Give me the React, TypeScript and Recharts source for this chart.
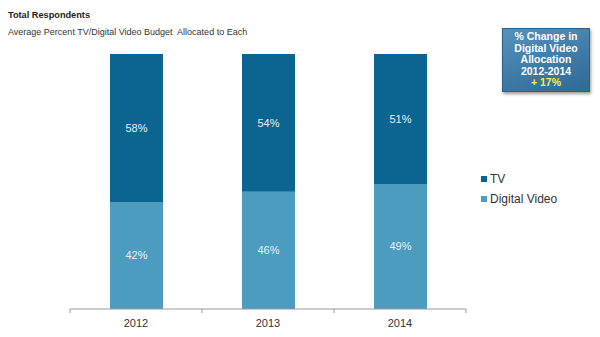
import React from 'react';
import { BarChart, Bar, XAxis, YAxis, LabelList } from 'recharts';

const years = ['2012', '2013', '2014'];
const digitalVideo = [42, 46, 49];
const tv = [58, 54, 51];

const data = years.map((year, i) => ({ year, digitalVideo: digitalVideo[i], tv: tv[i] }));

const TV_COLOR = '#0c6591';
const DV_COLOR = '#4c9cc0';
const PLOT_LEFT = 70;
const PLOT_RIGHT = 134;
const BAND = (600 - PLOT_LEFT - PLOT_RIGHT) / years.length;

const legendItems = [
  { name: 'TV', color: TV_COLOR },
  { name: 'Digital Video', color: DV_COLOR },
];

const YearTick = (props: any) => {
  const { x, y, payload, index } = props;
  const last = index === years.length - 1;
  return (
    <g>
      <line x1={x - BAND / 2} y1={y - 8} x2={x - BAND / 2} y2={y - 4} stroke="#999" />
      {last && <line x1={x + BAND / 2} y1={y - 8} x2={x + BAND / 2} y2={y - 4} stroke="#999" />}
      <text x={x} y={y + 10} textAnchor="middle" fontSize={11} fill="#333">
        {payload.value}
      </text>
    </g>
  );
};

const App: React.FC = () => (
  <div style={{ position: 'absolute', left: 0, top: 0, width: 600, height: 337, background: '#fff', fontFamily: '"Liberation Sans", Arial, sans-serif' }}>
    <div style={{ position: 'absolute', left: 8, top: 10, fontSize: 9.2, fontWeight: 'bold', color: '#222' }}>Total Respondents</div>
    <div style={{ position: 'absolute', left: 8, top: 27, fontSize: 9, color: '#333' }}>
      Average Percent TV/Digital Video Budget&nbsp; Allocated to Each
    </div>
    <div
      style={{
        position: 'absolute',
        left: 502,
        top: 28,
        width: 88,
        height: 64,
        background: 'linear-gradient(160deg, #5592bb 0%, #3c79a5 60%, #306a94 100%)',
        border: '1px solid #2d6088',
        boxShadow: '1px 2px 3px rgba(0,0,0,0.4)',
        color: '#fff',
        fontWeight: 'bold',
        fontSize: 10.5,
        lineHeight: '11.5px',
        textAlign: 'center',
        paddingTop: 2,
        boxSizing: 'border-box',
      }}
    >
      <div>% Change in</div>
      <div>Digital Video</div>
      <div>Allocation</div>
      <div>2012-2014</div>
      <div style={{ color: '#f2f53a' }}>+ 17%</div>
    </div>
    <div style={{ position: 'absolute', left: 481, top: 169 }}>
      {legendItems.map((it) => (
        <div key={it.name} style={{ display: 'flex', alignItems: 'center', height: 20, fontSize: 12, color: '#333' }}>
          <span style={{ width: 6, height: 6, background: it.color, marginRight: 3 }} />
          {it.name}
        </div>
      ))}
    </div>
    <BarChart
      width={600}
      height={337}
      data={data}
      margin={{ top: 54, right: PLOT_RIGHT, bottom: 0, left: PLOT_LEFT }}
      style={{ fontFamily: '"Liberation Sans", Arial, sans-serif' }}
    >
      <XAxis dataKey="year" height={28} axisLine={{ stroke: '#999' }} tickLine={false} tick={<YearTick />} interval={0} />
      <YAxis hide domain={[0, 100]} />
      <Bar dataKey="digitalVideo" name="Digital Video" stackId="a" fill={DV_COLOR} barSize={53} isAnimationActive={false}>
        <LabelList dataKey="digitalVideo" position="center" formatter={(v: any) => `${v}%`} fill="#e6eff5" fontSize={11} />
      </Bar>
      <Bar dataKey="tv" name="TV" stackId="a" fill={TV_COLOR} barSize={53} isAnimationActive={false}>
        <LabelList dataKey="tv" position="center" formatter={(v: any) => `${v}%`} fill="#e6eff5" fontSize={11} />
      </Bar>
    </BarChart>
  </div>
);

export default App;
